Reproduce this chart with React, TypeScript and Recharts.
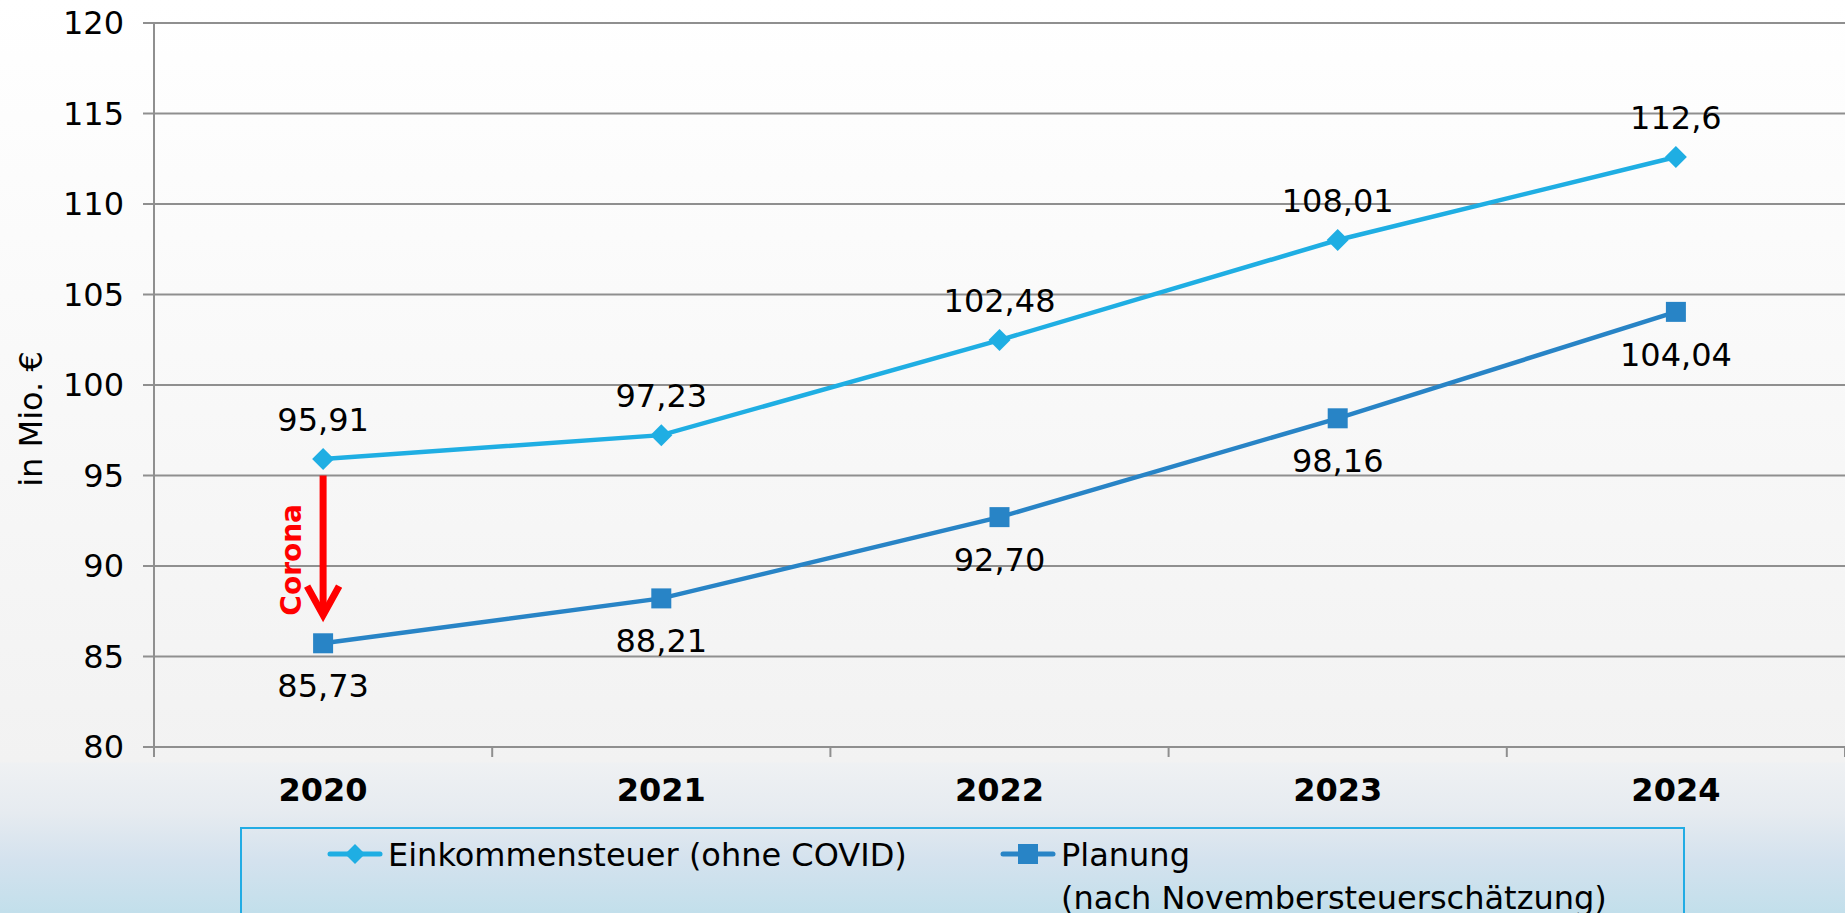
import React from 'react';
import { LineChart, Line, XAxis, YAxis, CartesianGrid, LabelList, Legend, ReferenceLine, Label } from 'recharts';

const years = ['2020', '2021', '2022', '2023', '2024'];
const einkommen = [95.91, 97.23, 102.48, 108.01, 112.6];
const einkommenLabels = ['95,91', '97,23', '102,48', '108,01', '112,6'];
const planung = [85.73, 88.21, 92.7, 98.16, 104.04];
const planungLabels = ['85,73', '88,21', '92,70', '98,16', '104,04'];
const yTicks = [80, 85, 90, 95, 100, 105, 110, 115, 120];
const seriesNames = ['Einkommensteuer (ohne COVID)', 'Planung\n(nach Novembersteuerschätzung)'];
const yAxisTitle = 'in Mio. €';
const coronaFrom = 95;
const coronaTo = 86.9;
const coronaLabel = 'Corona';

const FONT = "Verdana, 'DejaVu Sans', sans-serif";
const C1 = '#1FAEE3';
const C2 = '#2884C6';
const GRID = '#8f8f8f';

const data = years.map((y, i) => ({
  idx: i,
  year: y,
  ein: einkommen[i],
  einL: einkommenLabels[i],
  plan: planung[i],
  planL: planungLabels[i],
}));

const xTicks: number[] = years.flatMap((_, i) => [i - 0.5, i]).concat([years.length - 0.5]);

const XTick = (props: any) => {
  const { x, y, payload } = props;
  const v = payload.value;
  if (!Number.isInteger(v)) {
    return <line x1={x} x2={x} y1={y} y2={y + 10} stroke={GRID} strokeWidth={2} />;
  }
  return (
    <text x={x} y={y + 54} textAnchor="middle" fontFamily={FONT} fontSize={32} fontWeight="bold" fill="#000">
      {years[v]}
    </text>
  );
};

const DiamondDot = (p: any) => {
  const { cx, cy, index } = p;
  if (cx == null || cy == null) return <g key={`d${index}`} />;
  const r = 11;
  return (
    <polygon
      key={`d${index}`}
      points={`${cx},${cy - r} ${cx + r},${cy} ${cx},${cy + r} ${cx - r},${cy}`}
      fill={C1}
    />
  );
};

const SquareDot = (p: any) => {
  const { cx, cy, index } = p;
  if (cx == null || cy == null) return <g key={`s${index}`} />;
  return <rect key={`s${index}`} x={cx - 10} y={cy - 10} width={20} height={20} fill={C2} />;
};

const CoronaArrow = (props: any) => {
  const { x1, y1, x2, y2 } = props;
  if (x1 == null) return <g />;
  const vy = y2 - 7;
  return (
    <g>
      <line x1={x1} y1={y1} x2={x2} y2={vy - 3} stroke="#FF0000" strokeWidth={7} />
      <polyline
        points={`${x2 - 16},${vy - 29} ${x2},${vy} ${x2 + 16},${vy - 29}`}
        fill="none"
        stroke="#FF0000"
        strokeWidth={7}
      />
      <text
        x={x1 - 22}
        y={(y1 + y2) / 2 + 11}
        transform={`rotate(-90, ${x1 - 22}, ${(y1 + y2) / 2 + 11})`}
        textAnchor="middle"
        fontFamily={FONT}
        fontSize={28}
        fontWeight="bold"
        fill="#FF0000"
      >
        {coronaLabel}
      </text>
    </g>
  );
};

const YTitle = () => (
  <text
    x={42}
    y={419}
    transform="rotate(-90, 42, 419)"
    textAnchor="middle"
    fontFamily={FONT}
    fontSize={32}
    fill="#000"
  >
    {yAxisTitle}
  </text>
);

const LegendContent = (props: any) => {
  const payload = props.payload || [];
  const itemX = [87, 760];
  return (
    <svg width={1445} height={120} style={{ display: 'block', overflow: 'visible' }}>
      <rect x={1} y={1} width={1443} height={140} fill="none" stroke="#22ACE4" strokeWidth={2} />
      {payload.map((entry: any, i: number) => {
        const x0 = itemX[i] ?? 87 + i * 673;
        const cy = 27;
        const lines = String(entry.value).split('\n');
        const color = entry.color;
        return (
          <g key={i}>
            <line x1={x0 + 3} x2={x0 + 53} y1={cy} y2={cy} stroke={color} strokeWidth={5} strokeLinecap="round" />
            {i === 0 ? (
              <polygon points={`${x0 + 28},${cy - 10} ${x0 + 38},${cy} ${x0 + 28},${cy + 10} ${x0 + 18},${cy}`} fill={color} />
            ) : (
              <rect x={x0 + 18} y={cy - 10} width={20} height={20} fill={color} />
            )}
            {lines.map((ln, k) => (
              <text key={k} x={x0 + 61} y={39 + k * 43} fontFamily={FONT} fontSize={32} fill="#000">
                {ln}
              </text>
            ))}
          </g>
        );
      })}
    </svg>
  );
};

export default function App() {
  return (
    <div
      style={{
        position: 'fixed',
        left: 0,
        top: 0,
        width: 1845,
        height: 913,
        overflow: 'hidden',
        background:
          'linear-gradient(to bottom, #ffffff 0px, #f2f2f2 762px, #eff1f3 763px, #e6ebf0 812px, #d4e2ee 860px, #c2dfeb 913px)',
      }}
    >
      <LineChart width={1845} height={913} data={data} margin={{ top: 23, right: 0, left: 54, bottom: 96 }}>
        <CartesianGrid vertical={false} stroke={GRID} strokeWidth={2} />
        <XAxis
          type="number"
          dataKey="idx"
          domain={[-0.5, 4.5]}
          ticks={xTicks}
          interval={0}
          tickLine={false}
          tickSize={0}
          tickMargin={0}
          height={70}
          axisLine={{ stroke: GRID, strokeWidth: 2 }}
          tick={<XTick />}
        />
        <YAxis
          domain={[80, 120]}
          ticks={yTicks}
          interval={0}
          width={100}
          tickSize={11}
          tickMargin={19}
          axisLine={{ stroke: GRID, strokeWidth: 2 }}
          tickLine={{ stroke: GRID, strokeWidth: 2 }}
          tick={{ fill: '#000', fontSize: 32, fontFamily: FONT }}
        >
          <Label content={<YTitle />} />
        </YAxis>
        <ReferenceLine
          segment={[
            { x: 0, y: coronaFrom },
            { x: 0, y: coronaTo },
          ]}
          stroke="#FF0000"
          shape={(p: any) => <CoronaArrow {...p} />}
        />
        <Line
          name={seriesNames[0]}
          dataKey="ein"
          stroke={C1}
          strokeWidth={4.5}
          dot={(p: any) => <DiamondDot {...p} />}
          activeDot={false}
          isAnimationActive={false}
        >
          <LabelList dataKey="einL" position="top" offset={28} fill="#000" fontSize={32} fontFamily={FONT} />
        </Line>
        <Line
          name={seriesNames[1]}
          dataKey="plan"
          stroke={C2}
          strokeWidth={4.5}
          dot={(p: any) => <SquareDot {...p} />}
          activeDot={false}
          isAnimationActive={false}
        >
          <LabelList dataKey="planL" position="bottom" offset={31} fill="#000" fontSize={32} fontFamily={FONT} />
        </Line>
        <Legend
          layout="vertical"
          align="center"
          verticalAlign="middle"
          wrapperStyle={{ position: 'absolute', left: 240, top: 827, width: 1445, height: 120, margin: 0 }}
          content={<LegendContent />}
        />
      </LineChart>
    </div>
  );
}
